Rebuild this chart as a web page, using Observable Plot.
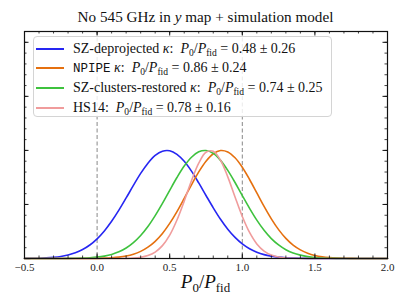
<!DOCTYPE html>
<html>
<head>
<meta charset="utf-8">
<script src="https://cdn.jsdelivr.net/npm/d3@7"></script>
<script src="https://cdn.jsdelivr.net/npm/@observablehq/plot@0.6"></script>
<style>
  body { margin: 0; background: #fff; }
  #fig { position: relative; width: 407px; height: 305px; font-family: "Liberation Serif", "Times New Roman", Tinos, "DejaVu Serif", "Noto Serif", FreeSerif, serif; color: #111; }
  #title { position: absolute; left: 24px; width: 363px; top: 7px; text-align: center; font-size: 15.2px; line-height: 20px; white-space: nowrap; }
  #plot { position: absolute; left: 0; top: 28px; }
  #legend { position: absolute; left: 33px; top: 36px; width: 299px; height: 81px; box-sizing: border-box;
            border: 1px solid #d4d4d4; border-radius: 4px; background: rgba(255,255,255,0.82); }
  .row { position: absolute; left: 0; height: 20px; width: 100%; }
  .row .h { position: absolute; left: 2px; width: 28px; height: 0; border-top: 2px solid; top: 9px; }
  .row .t { position: absolute; left: 39px; top: 0; font-size: 14px; line-height: 20px; white-space: nowrap; }
  .tt { font-family: "Liberation Mono", "DejaVu Sans Mono", monospace; font-size: 12.5px; }
  sub { font-size: 0.68em; vertical-align: -0.3em; line-height: 0; }
  #xlabel { position: absolute; left: 24px; width: 363px; top: 270px; text-align: center; font-size: 19px; line-height: 24px; }
</style>
</head>
<body>
<div id="fig">
  <div id="plot"></div>
  <div id="title">No 545 GHz in <i>y</i> map + simulation model</div>
  <div id="legend"></div>
  <div id="xlabel"><i>P</i><sub>0</sub>/<i>P</i><sub>fid</sub></div>
</div>
<script>
// x grid (P0/Pfid) at which curves were read
const xs = [-0.5,-0.45,-0.4,-0.35,-0.3,-0.25,-0.2,-0.15,-0.1,-0.05,0,0.05,0.1,0.15,0.2,0.25,0.3,0.35,0.4,0.45,0.5,0.55,0.6,0.65,0.7,0.75,0.8,0.85,0.9,0.95,1,1.05,1.1,1.15,1.2,1.25,1.3,1.35,1.4,1.45,1.5,1.55,1.6,1.65,1.7,1.75,1.8,1.85,1.9,1.95,2];

// normalised posterior heights
const szDeprojected = [0.001,0.002,0.003,0.006,0.011,0.019,0.033,0.053,0.083,0.125,0.182,0.255,0.344,0.447,0.560,0.676,0.787,0.882,0.954,0.993,0.997,0.964,0.899,0.808,0.699,0.583,0.469,0.363,0.271,0.195,0.135,0.090,0.058,0.036,0.022,0.0125,0.0069,0.0037,0.0019,0.001,0.0005,0.0002,0.0001,0,0,0,0,0,0,0,0];
const npipe = [0,0,0,0,0.00001,0.00002,0.00006,0.00014,0.00034,0.00076,0.0016,0.0034,0.0066,0.0126,0.0228,0.0396,0.0657,0.105,0.159,0.232,0.325,0.434,0.556,0.682,0.801,0.900,0.969,0.999,0.986,0.932,0.844,0.731,0.607,0.482,0.367,0.267,0.186,0.124,0.080,0.049,0.0286,0.016,0.0086,0.0044,0.0022,0.001,0.0005,0.0002,0.0001,0,0];
const szClusters = [0,0.00001,0.00003,0.00007,0.00017,0.0004,0.00085,0.0018,0.0035,0.0068,0.0125,0.0222,0.0377,0.0617,0.097,0.1465,0.2125,0.296,0.397,0.510,0.631,0.749,0.855,0.937,0.987,0.999,0.972,0.908,0.815,0.703,0.582,0.464,0.355,0.261,0.184,0.125,0.081,0.051,0.031,0.0177,0.0098,0.0053,0.0027,0.0013,0.0006,0.0003,0.0001,0,0,0,0];
const hs14 = [0,0,0,0,0,0,0,0,0,0,0,0,0.0001,0.0004,0.0014,0.0041,0.0111,0.027,0.0596,0.119,0.216,0.356,0.531,0.719,0.882,0.983,0.992,0.909,0.755,0.569,0.389,0.241,0.135,0.069,0.032,0.0134,0.0051,0.0018,0.0005,0.0001,0,0,0,0,0,0,0,0,0,0,0];

const seriesNames = ["SZ-deprojected", "NPIPE", "SZ-clusters-restored", "HS14"];
const seriesValues = [szDeprojected, npipe, szClusters, hs14];
const seriesColors = ["#2626f2", "#e5700f", "#3ec23e", "#f09c9c"];
const legendLabels = [
  'SZ-deprojected <i>κ</i>: &nbsp;<i>P</i><sub>0</sub>/<i>P</i><sub>fid</sub> = 0.48 ± 0.26',
  '<span class="tt">NPIPE</span> <i>κ</i>: &nbsp;<i>P</i><sub>0</sub>/<i>P</i><sub>fid</sub> = 0.86 ± 0.24',
  'SZ-clusters-restored <i>κ</i>: &nbsp;<i>P</i><sub>0</sub>/<i>P</i><sub>fid</sub> = 0.74 ± 0.25',
  'HS14: &nbsp;<i>P</i><sub>0</sub>/<i>P</i><sub>fid</sub> = 0.78 ± 0.16'
];
const refLines = [0, 1];
const xMajor = [-0.5, 0, 0.5, 1, 1.5, 2];
const xMinor = d3.range(-5, 21).map(i => i / 10);
const yMajor = [0, 0.5, 1, 1.5, 2];
const yMinor = d3.range(0, 22).map(i => i / 10);

const rows = [];
seriesNames.forEach((name, k) => {
  xs.forEach((x, i) => rows.push({series: name, x, y: seriesValues[k][i]}));
});

const fmt = d => (d < 0 ? "\u2212" : "") + Math.abs(d).toFixed(1);

const W = 407, H = 277, ML = 24, MR = 20, MT = 3, MB = 47;
const fw = W - ML - MR, fh = H - MT - MB;
const majL = 4.5, minL = 2.5;

const chart = Plot.plot({
  width: W,
  height: H,
  marginLeft: ML,
  marginRight: MR,
  marginTop: MT,
  marginBottom: MB,
  style: {fontFamily: '"Liberation Serif", "Times New Roman", Tinos, "DejaVu Serif", serif', fontSize: "11px", color: "#222", background: "transparent"},
  x: {domain: [-0.5, 2.0]},
  y: {domain: [0, 2.1], axis: null},
  color: {domain: seriesNames, range: seriesColors},
  marks: [
    Plot.ruleX(refLines, {stroke: "#888", strokeWidth: 1, strokeDasharray: "4,2.5"}),
    Plot.line(rows, {x: "x", y: "y", z: "series", stroke: "series", strokeWidth: 1.6, curve: "catmull-rom"}),
    // x tick labels
    Plot.axisX(xMajor, {anchor: "bottom", tickSize: 0, tickPadding: 5, tickFormat: fmt, fontSize: 11, label: null}),
    // inward ticks: bottom and top
    Plot.tickX(xMajor, {x: d => d, stroke: "#111", insetTop: fh - majL}),
    Plot.tickX(xMinor, {x: d => d, stroke: "#111", strokeWidth: 0.8, insetTop: fh - minL}),
    Plot.tickX(xMajor, {x: d => d, stroke: "#111", insetBottom: fh - majL}),
    Plot.tickX(xMinor, {x: d => d, stroke: "#111", strokeWidth: 0.8, insetBottom: fh - minL}),
    // inward ticks: left and right
    Plot.tickY(yMajor, {y: d => d, stroke: "#111", insetRight: fw - majL}),
    Plot.tickY(yMinor, {y: d => d, stroke: "#111", strokeWidth: 0.8, insetRight: fw - minL}),
    Plot.tickY(yMajor, {y: d => d, stroke: "#111", insetLeft: fw - majL}),
    Plot.tickY(yMinor, {y: d => d, stroke: "#111", strokeWidth: 0.8, insetLeft: fw - minL}),
    Plot.frame({stroke: "#111", strokeWidth: 1.2})
  ]
});
document.getElementById("plot").appendChild(chart);

const leg = document.getElementById("legend");
seriesNames.forEach((name, k) => {
  const r = document.createElement("div");
  r.className = "row";
  r.style.top = (1.5 + k * 19.9) + "px";
  r.innerHTML = `<div class="h" style="border-color:${seriesColors[k]}"></div><div class="t">${legendLabels[k]}</div>`;
  leg.appendChild(r);
});
</script>
</body>
</html>
